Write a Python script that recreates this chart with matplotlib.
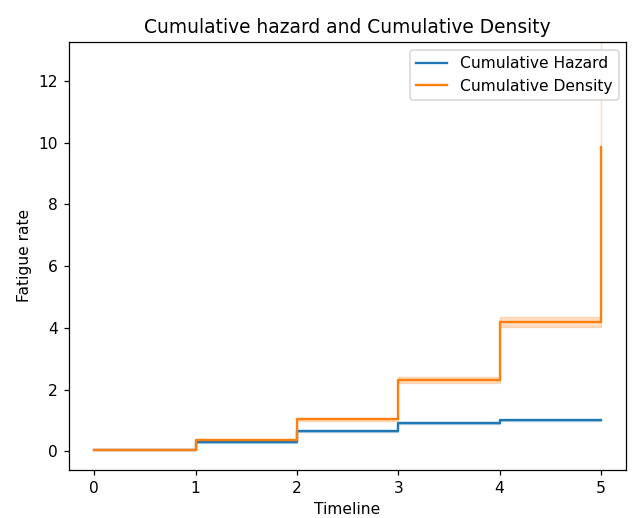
import matplotlib
matplotlib.use("Agg")
import matplotlib.pyplot as plt

timeline = [0, 1, 2, 3, 4, 5]

cum_hazard = [0.05, 0.29, 0.66, 0.93, 1.00, 1.00]
cum_hazard_lo = [0.04, 0.27, 0.63, 0.90, 0.97, 0.97]
cum_hazard_hi = [0.06, 0.31, 0.69, 0.96, 1.03, 1.03]

cum_density = [0.05, 0.36, 1.04, 2.31, 4.19, 9.85]
cum_density_lo = [0.04, 0.33, 0.99, 2.22, 4.04, 7.5]
cum_density_hi = [0.06, 0.39, 1.09, 2.40, 4.34, 13.5]

DPI = 112
fig = plt.figure(figsize=(632 / DPI, 518 / DPI), dpi=DPI)
ax = fig.add_axes([0.109, 0.093, 0.882, 0.826])

c_haz = "#1f77b4"
c_den = "#ff7f0e"

ax.plot(timeline, cum_hazard, drawstyle="steps-post", color=c_haz,
        linewidth=1.5, label="Cumulative Hazard")
ax.fill_between(timeline, cum_hazard_lo, cum_hazard_hi, step="post",
                color=c_haz, alpha=0.25, linewidth=0.8)
ax.plot(timeline, cum_density, drawstyle="steps-post", color=c_den,
        linewidth=1.5, label="Cumulative Density")
ax.fill_between(timeline, cum_density_lo, cum_density_hi, step="post",
                color=c_den, alpha=0.25, linewidth=0.8)

ax.set_xlim(-0.25, 5.25)
ax.set_ylim(-0.6, 13.26)
ax.set_yticks([0, 2, 4, 6, 8, 10, 12])
ax.set_xlabel("Timeline")
ax.set_ylabel("Fatigue rate")
ax.set_title("Cumulative hazard and Cumulative Density")
ax.legend(loc="upper right")

fig.savefig("out.png", dpi=DPI)
